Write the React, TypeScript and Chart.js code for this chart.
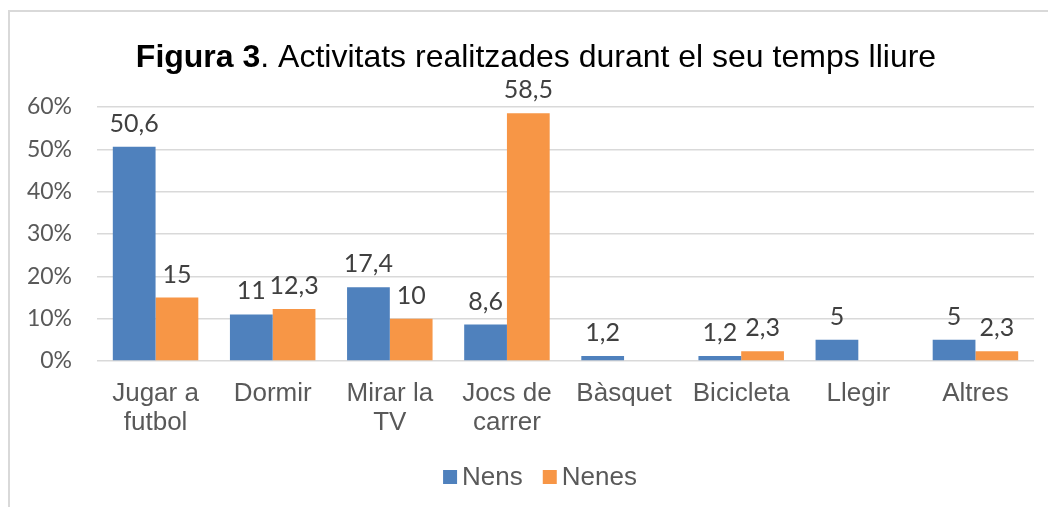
import React, { useEffect, useRef } from "react";
import { Chart, registerables } from "chart.js";

Chart.register(...registerables);

const categories: (string | string[])[] = [
  ["Jugar a", "futbol"],
  "Dormir",
  ["Mirar la", "TV"],
  ["Jocs de", "carrer"],
  "Bàsquet",
  "Bicicleta",
  "Llegir",
  "Altres",
];
const nens: (number | null)[] = [50.6, 11, 17.4, 8.6, 1.2, 1.2, 5, 5];
const nenes: (number | null)[] = [15, 12.3, 10, 58.5, null, 2.3, null, 2.3];
const seriesNames = ["Nens", "Nenes"];
const yMin = 0;
const yMax = 60;
const yStep = 10;
const titleBold = "Figura 3";
const titleRest = ". Activitats realitzades durant el seu temps lliure";

const BLUE = "#4F81BD";
const ORANGE = "#F79646";
const ARIAL = "'Liberation Sans', Arial, sans-serif";
const CALIBRI = "Lato, 'Open Sans', sans-serif";

const titlePlugin = {
  id: "mixedTitle",
  afterDraw(chart: any) {
    const ctx = chart.ctx;
    ctx.save();
    const size = 32;
    ctx.textBaseline = "middle";
    ctx.fillStyle = "#000000";
    ctx.font = `bold ${size}px ${ARIAL}`;
    const w1 = ctx.measureText(titleBold).width;
    ctx.font = `${size}px ${ARIAL}`;
    const w2 = ctx.measureText(titleRest).width;
    const cx = chart.width / 2;
    const y = 46;
    const x0 = cx - (w1 + w2) / 2;
    ctx.textAlign = "left";
    ctx.font = `bold ${size}px ${ARIAL}`;
    ctx.fillText(titleBold, x0, y);
    ctx.font = `${size}px ${ARIAL}`;
    ctx.fillText(titleRest, x0 + w1, y);
    ctx.restore();
  },
};

const legendPlugin = {
  id: "customLegend",
  afterDraw(chart: any) {
    const ctx = chart.ctx;
    ctx.save();
    const box = 14;
    const gapBoxText = 5;
    const gapItems = 20;
    ctx.font = `26px ${ARIAL}`;
    const items = chart.data.datasets.map((ds: any) => ({
      text: ds.label,
      color: ds.backgroundColor,
      w: ctx.measureText(ds.label).width,
    }));
    const total =
      items.reduce((s: number, it: any) => s + box + gapBoxText + it.w, 0) +
      gapItems * (items.length - 1);
    let x = chart.width / 2 + 4 - total / 2;
    const y = chart.height - 30;
    ctx.textBaseline = "middle";
    ctx.textAlign = "left";
    items.forEach((it: any) => {
      ctx.fillStyle = it.color;
      ctx.fillRect(x, y - box / 2, box, box);
      x += box + gapBoxText;
      ctx.fillStyle = "#595959";
      ctx.fillText(it.text, x, y + 1);
      x += it.w + gapItems;
    });
    ctx.restore();
  },
};

const dataLabelPlugin = {
  id: "dataLabels",
  afterDatasetsDraw(chart: any) {
    const ctx = chart.ctx;
    ctx.save();
    ctx.font = `25px ${CALIBRI}`;
    ctx.fillStyle = "#404040";
    ctx.textAlign = "center";
    ctx.textBaseline = "alphabetic";
    chart.data.datasets.forEach((ds: any, i: number) => {
      const meta = chart.getDatasetMeta(i);
      meta.data.forEach((el: any, j: number) => {
        const v = ds.data[j];
        if (v === null || v === undefined) return;
        const txt = String(v).replace(".", ",");
        ctx.fillText(txt, el.x, el.y - 15);
      });
    });
    ctx.restore();
  },
};

export default function App() {
  const ref = useRef<HTMLCanvasElement | null>(null);

  useEffect(() => {
    if (!ref.current) return;
    const chart = new Chart(ref.current, {
      type: "bar",
      data: {
        labels: categories as any,
        datasets: [
          {
            label: seriesNames[0],
            data: nens,
            backgroundColor: BLUE,
            categoryPercentage: 0.73,
            barPercentage: 1,
          },
          {
            label: seriesNames[1],
            data: nenes,
            backgroundColor: ORANGE,
            categoryPercentage: 0.73,
            barPercentage: 1,
          },
        ],
      },
      options: {
        animation: false,
        responsive: false,
        maintainAspectRatio: false,
        layout: { padding: { top: 95, right: 28, left: 0, bottom: 55 } },
        plugins: {
          title: { display: false },
          tooltip: { enabled: false },
          legend: { display: false },
        },
        scales: {
          x: {
            grid: { display: false },
            border: { display: false },
            ticks: {
              color: "#595959",
              font: { family: ARIAL, size: 26, lineHeight: 1.12 },
              maxRotation: 0,
              autoSkip: false,
              padding: 10,
            },
            afterFit(scale: any) {
              scale.height = 91;
            },
          },
          y: {
            min: yMin,
            max: yMax,
            border: { display: false },
            grid: { color: "#d9d9d9", lineWidth: 1.5, drawTicks: false },
            ticks: {
              stepSize: yStep,
              color: "#595959",
              font: { family: CALIBRI, size: 23 },
              padding: 25,
              callback: (v: any) => `${v}%`,
            },
            afterFit(scale: any) {
              scale.width = 87;
            },
          },
        },
      },
      plugins: [titlePlugin, dataLabelPlugin, legendPlugin],
    });
    return () => chart.destroy();
  }, []);

  return (
    <div
      style={{
        position: "fixed",
        left: 8,
        top: 10,
        width: 1100,
        height: 497,
        borderTop: "2px solid #d9d9d9",
        borderLeft: "2px solid #d9d9d9",
        overflow: "hidden",
        background: "#ffffff",
      }}
    >
      <canvas ref={ref} width={1052} height={495} style={{ display: "block" }} />
    </div>
  );
}
